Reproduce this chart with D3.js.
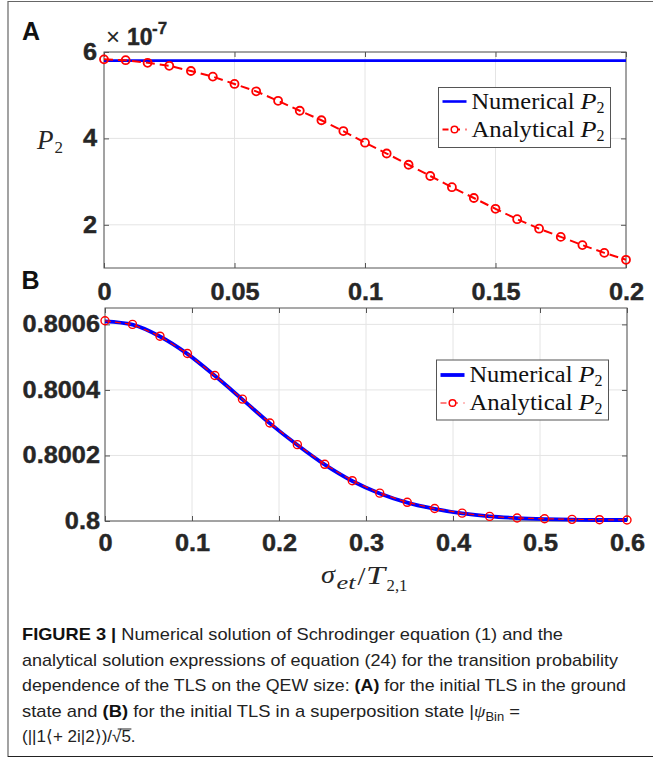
<!DOCTYPE html>
<html><head><meta charset="utf-8">
<script src="https://cdn.jsdelivr.net/npm/d3@7"></script>
<style>body{margin:0;background:#fff}</style>
</head><body><svg id="c" width="653" height="758" xmlns="http://www.w3.org/2000/svg"></svg>
<script>
// ---------- data ----------
const xA = [0, 0.0083, 0.0167, 0.025, 0.0333, 0.0417, 0.05, 0.0583, 0.0667, 0.075, 0.0833, 0.0917, 0.1, 0.1083, 0.1167, 0.125, 0.1333, 0.1417, 0.15, 0.1583, 0.1667, 0.175, 0.1833, 0.1917, 0.2];
const analyticalA = [5.83, 5.81, 5.75, 5.68, 5.56, 5.43, 5.26, 5.09, 4.87, 4.64, 4.42, 4.17, 3.90, 3.65, 3.39, 3.13, 2.87, 2.62, 2.37, 2.13, 1.91, 1.72, 1.53, 1.35, 1.19];
const numericalAx = [0, 0.2];
const numericalA = [5.8, 5.8];

const xB = [0, 0.0316, 0.0632, 0.0947, 0.1263, 0.1579, 0.1895, 0.2211, 0.2526, 0.2842, 0.3158, 0.3474, 0.3789, 0.4105, 0.4421, 0.4737, 0.5053, 0.5368, 0.5684, 0.6];
const analyticalB = [0.800611, 0.800600, 0.800564, 0.800511, 0.800444, 0.800372, 0.800299, 0.800233, 0.800173, 0.800123, 0.800085, 0.800057, 0.800038, 0.800024, 0.800014, 0.800009, 0.800007, 0.800005, 0.800004, 0.800003];
const numericalB = [0.800609, 0.800599, 0.800563, 0.800510, 0.800443, 0.800371, 0.800298, 0.800232, 0.800172, 0.800122, 0.800084, 0.800056, 0.800037, 0.800023, 0.800014, 0.800009, 0.800006, 0.800004, 0.800003, 0.800003];

const xTicksA = [0, 0.05, 0.1, 0.15, 0.2];
const xTickLabelsA = ["0", "0.05", "0.1", "0.15", "0.2"];
const yTicksA = [2, 4, 6];
const yTickLabelsA = ["2", "4", "6"];
const xTicksB = [0, 0.1, 0.2, 0.3, 0.4, 0.5, 0.6];
const xTickLabelsB = ["0", "0.1", "0.2", "0.3", "0.4", "0.5", "0.6"];
const yTicksB = [0.8, 0.8002, 0.8004, 0.8006];
const yTickLabelsB = ["0.8", "0.8002", "0.8004", "0.8006"];
const legendWords = ["Numerical", "Analytical"];

const captionLines = [
  [["b","FIGURE 3 | "],["n","Numerical solution of Schrodinger equation (1) and the"]],
  [["n","analytical solution expressions of equation (24) for the transition probability"]],
  [["n","dependence of the TLS on the QEW size: "],["b","(A)"],["n"," for the initial TLS in the ground"]],
  [["n","state and "],["b","(B)"],["n"," for the initial TLS in a superposition state |"],["i","ψ"],["s","Bin"],["n"," ="]]
];
const captionWidths = [541, 596, 604, 498];

// ---------- drawing ----------
const svg = d3.select("#c");
svg.append("rect").attr("width",653).attr("height",758).attr("fill","#fff");

// frame
svg.append("path").attr("d","M8,757 V1.5 H653").attr("fill","none").attr("stroke","#666").attr("stroke-width",1.2);
svg.append("line").attr("x1",8).attr("x2",653).attr("y1",756.5).attr("y2",756.5).attr("stroke","#222").attr("stroke-width",1.2);

const BLUE = "#0000ff", RED = "#ff0000", AX = "#555", TXT = "#262626";
const SANS = "'Liberation Sans', Arial, sans-serif";
const SERIF = "'Liberation Serif', 'Times New Roman', serif";

function stretch(sel, f){
  sel.each(function(){
    const L = this.getComputedTextLength();
    this.setAttribute("textLength", (L*f).toFixed(1));
    this.setAttribute("lengthAdjust","spacingAndGlyphs");
  });
}

function panel(o){
  const x = d3.scaleLinear().domain(o.xd).range([o.l, o.r]);
  const y = d3.scaleLinear().domain(o.yd).range([o.b, o.t]);
  const g = svg.append("g");
  // grid
  g.selectAll(null).data(o.xt).join("line")
    .attr("x1", d=>x(d)).attr("x2", d=>x(d)).attr("y1", o.t).attr("y2", o.b)
    .attr("stroke","#e4e4e4").attr("stroke-width",1);
  g.selectAll(null).data(o.yt).join("line")
    .attr("y1", d=>y(d)).attr("y2", d=>y(d)).attr("x1", o.l).attr("x2", o.r)
    .attr("stroke","#e4e4e4").attr("stroke-width",1);

  const bx = g.append("g").attr("transform",`translate(0,${o.b})`)
    .call(d3.axisBottom(x).tickValues(o.xt).tickFormat((d,i)=>o.xl[i]).tickSizeInner(-5).tickSizeOuter(0).tickPadding(o.xpad));
  const ly = g.append("g").attr("transform",`translate(${o.l},0)`)
    .call(d3.axisLeft(y).tickValues(o.yt).tickFormat((d,i)=>o.yl[i]).tickSizeInner(-5).tickSizeOuter(0).tickPadding(o.ypad));
  g.append("g").attr("transform",`translate(0,${o.t})`)
    .call(d3.axisTop(x).tickValues(o.xt).tickFormat("").tickSizeInner(-5).tickSizeOuter(0));
  g.append("g").attr("transform",`translate(${o.r},0)`)
    .call(d3.axisRight(y).tickValues(o.yt).tickFormat("").tickSizeInner(-5).tickSizeOuter(0));
  g.selectAll(".domain").remove();
  g.selectAll(".tick line").attr("stroke", AX);
  [bx, ly].forEach(a => a.selectAll("text")
     .attr("font-family", SANS).attr("font-weight","bold").attr("font-size", 23).attr("fill", TXT)
     .attr("stroke", TXT).attr("stroke-width", 0.4));
  stretch(bx.selectAll("text"), 1.1);
  stretch(ly.selectAll("text"), 1.1);

  g.append("rect").attr("x",o.l).attr("y",o.t).attr("width",o.r-o.l).attr("height",o.b-o.t)
    .attr("fill","none").attr("stroke",AX).attr("stroke-width",1);
  return {x, y, g};
}

// ---------- Panel A ----------
const A = panel({l:104, r:626, t:52, b:268, xd:[0,0.2], yd:[1,6],
  xt:xTicksA, xl:xTickLabelsA, yt:yTicksA, yl:yTickLabelsA, xpad:16, ypad:7});
A.g.append("path").datum(numericalA)
  .attr("d", d3.line().x((d,i)=>A.x(numericalAx[i])).y(d=>A.y(d)))
  .attr("fill","none").attr("stroke",BLUE).attr("stroke-width",2.6);
A.g.append("path").datum(analyticalA)
  .attr("d", d3.line().x((d,i)=>A.x(xA[i])).y(d=>A.y(d)))
  .attr("fill","none").attr("stroke",RED).attr("stroke-width",2).attr("stroke-dasharray","9,5");
A.g.selectAll(null).data(analyticalA).join("circle")
  .attr("cx",(d,i)=>A.x(xA[i])).attr("cy",d=>A.y(d)).attr("r",4)
  .attr("fill","none").attr("stroke",RED).attr("stroke-width",1.8);

// exponent label
svg.append("text").attr("x",106).attr("y",45).attr("fill",TXT).attr("font-family",SANS)
  .attr("font-size",24).text("×");
svg.append("text").attr("x",127).attr("y",45).attr("font-family",SANS).attr("font-weight","bold")
  .attr("font-size",23).attr("fill",TXT).attr("stroke",TXT).attr("stroke-width",0.4).text("10");
svg.append("text").attr("x",152).attr("y",34).attr("font-family",SANS).attr("font-weight","bold")
  .attr("font-size",17).attr("fill",TXT).attr("stroke",TXT).attr("stroke-width",0.3).text("-7");

// y label A
svg.append("text").attr("x",37).attr("y",148.5).attr("font-family",SERIF).attr("font-style","italic")
  .attr("font-size",27).attr("fill",TXT).text("P");
svg.append("text").attr("x",54.5).attr("y",152.5).attr("font-family",SERIF)
  .attr("font-size",17).attr("fill",TXT).text("2");

// panel letters
svg.append("text").attr("x",22).attr("y",39.5).attr("font-family",SANS).attr("font-weight","bold")
  .attr("font-size",25).attr("fill","#111").text("A");
svg.append("text").attr("x",21.5).attr("y",288.5).attr("font-family",SANS).attr("font-weight","bold")
  .attr("font-size",25).attr("fill","#111").text("B");

// ---------- Panel B ----------
const B = panel({l:105, r:627, t:308, b:521, xd:[0,0.6], yd:[0.8,0.80065],
  xt:xTicksB, xl:xTickLabelsB, yt:yTicksB, yl:yTickLabelsB, xpad:14, ypad:5});
B.g.append("path").datum(numericalB)
  .attr("d", d3.line().curve(d3.curveMonotoneX).x((d,i)=>B.x(xB[i])).y(d=>B.y(d)))
  .attr("fill","none").attr("stroke",BLUE).attr("stroke-width",3.8);
B.g.append("path").datum(analyticalB)
  .attr("d", d3.line().x((d,i)=>B.x(xB[i])).y(d=>B.y(d)))
  .attr("fill","none").attr("stroke",RED).attr("stroke-width",1.2).attr("stroke-dasharray","6,4");
B.g.selectAll(null).data(analyticalB).join("circle")
  .attr("cx",(d,i)=>B.x(xB[i])).attr("cy",d=>B.y(d)).attr("r",4)
  .attr("fill","none").attr("stroke",RED).attr("stroke-width",1.4);

// x label B
function piece(x, y, size, italic, txt, len){
  const t = svg.append("text").attr("x",x).attr("y",y).attr("font-family",SERIF)
    .attr("font-size",size).attr("fill",TXT).text(txt);
  if (italic) t.attr("font-style","italic");
  if (len) t.attr("textLength",len).attr("lengthAdjust","spacingAndGlyphs");
  return t;
}
piece(321, 582.5, 26, true, "σ", 14);
piece(336.5, 588.5, 18, true, "et", 19);
piece(357.5, 585, 25, false, "/", 8);
piece(366, 583.5, 26, true, "T", 19);
piece(386.5, 591, 17, false, "2,1", 21);

// ---------- legends ----------
function legend(bx, by, bw, bh, thickBlue, redW, r1, r2){
  const g = svg.append("g");
  g.append("rect").attr("x",bx).attr("y",by).attr("width",bw).attr("height",bh)
    .attr("fill","#fff").attr("stroke",AX).attr("stroke-width",1);
  const lx0 = bx+4, lx1 = bx+28, tx = bx+33;
  g.append("line").attr("x1",lx0).attr("x2",lx1).attr("y1",r1-7).attr("y2",r1-7)
    .attr("stroke",BLUE).attr("stroke-width",thickBlue);
  g.append("line").attr("x1",lx0).attr("x2",lx1).attr("y1",r2-7).attr("y2",r2-7)
    .attr("stroke",RED).attr("stroke-width",redW).attr("stroke-dasharray","6,5.5");
  g.append("circle").attr("cx",(lx0+lx1)/2).attr("cy",r2-7).attr("r",3.3)
    .attr("fill","#fff").attr("stroke",RED).attr("stroke-width",1.5);
  [r1, r2].forEach((ry, i) => {
    g.append("text").attr("x",tx).attr("y",ry).attr("font-family",SERIF).attr("font-size",23)
      .attr("fill","#111").attr("textLength",103).attr("lengthAdjust","spacingAndGlyphs").text(legendWords[i]);
    g.append("text").attr("x",tx+109).attr("y",ry).attr("font-family",SERIF).attr("font-style","italic")
      .attr("font-size",24).attr("fill","#111").attr("textLength",16).attr("lengthAdjust","spacingAndGlyphs").text("P");
    g.append("text").attr("x",tx+125).attr("y",ry+4).attr("font-family",SERIF)
      .attr("font-size",16).attr("fill","#111").text("2");
  });
}
legend(438.5, 87.5, 172, 60, 2.6, 2, 108.5, 136.5);
legend(436.5, 360, 172, 60, 3.8, 1.2, 382, 410);

// ---------- caption ----------
const capY = [640, 665.5, 691, 716.5];
captionLines.forEach((parts, li) => {
  const t = svg.append("text").attr("x",22).attr("y",capY[li]).attr("font-family",SANS)
    .attr("font-size",17).attr("fill","#222");
  parts.forEach(([k, s]) => {
    const sp = t.append("tspan").text(s);
    if (k === "b") sp.attr("font-weight","bold").attr("fill","#111");
    if (k === "i") sp.attr("font-style","italic").attr("font-family",SERIF);
    if (k === "s") sp.attr("font-size",12).attr("dy",4);
    if (k === "n" && li === 3 && s === " =") sp.attr("dy",-4);
  });
  t.attr("textLength", captionWidths[li]).attr("lengthAdjust","spacingAndGlyphs");
});
// last caption line with sqrt
const lastStr = "(||1⟨+ 2i|2⟩)/√5.";
const last = svg.append("text").attr("x",22).attr("y",742).attr("font-family",SANS)
  .attr("font-size",17).attr("fill","#222").text(lastStr);
const i5 = lastStr.indexOf("5");
const e5 = last.node().getExtentOfChar(i5);
const eR = last.node().getExtentOfChar(i5-1);
svg.append("line").attr("x1", eR.x + eR.width*0.6).attr("x2", e5.x + e5.width + 0.5)
  .attr("y1", e5.y + 2).attr("y2", e5.y + 2).attr("stroke","#222").attr("stroke-width",1);
</script></body></html>
